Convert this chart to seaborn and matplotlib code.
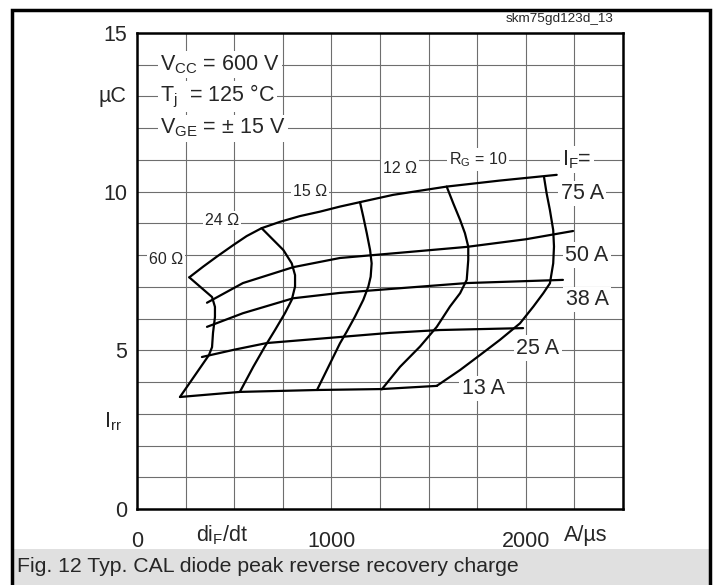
import numpy as np
import pandas as pd
import matplotlib
matplotlib.use("Agg")
import matplotlib.pyplot as plt
from matplotlib.patches import Rectangle
import seaborn as sns

# ── Data ──────────────────────────────────────────────────────────────────────
# I_F curves: di/dt (A/us) vs Irr
IF_75_X = [269, 341, 410, 496, 564, 641, 736, 838, 941, 1044, 1147, 1318, 1593, 1867, 2159]
IF_75_Y = [7.30, 7.64, 7.95, 8.32, 8.60, 8.85, 9.05, 9.23, 9.37, 9.53, 9.67, 9.90, 10.16, 10.35, 10.53]
IF_50_X = [360, 545, 803, 1044, 1400, 1697, 2000, 2243]
IF_50_Y = [6.5, 7.12, 7.62, 7.91, 8.1, 8.26, 8.5, 8.76]
IF_38_X = [360, 545, 803, 1044, 1400, 1697, 2191]
IF_38_Y = [5.74, 6.17, 6.64, 6.81, 6.98, 7.12, 7.22]
IF_25_X = [334, 500, 668, 1044, 1300, 1558, 1986]
IF_25_Y = [4.79, 5.02, 5.23, 5.42, 5.55, 5.64, 5.7]
IF_13_X = [221, 530, 926, 1260, 1543]
IF_13_Y = [3.53, 3.69, 3.75, 3.78, 3.88]

# R_G curves
RG_60_X = [269, 386, 401, 401, 391, 386, 370, 221]
RG_60_Y = [7.30, 6.68, 6.37, 6.05, 5.55, 5.10, 4.85, 3.53]
RG_24_X = [641, 701, 753, 796, 813, 813, 796, 761, 710, 658, 598, 530]
RG_24_Y = [8.85, 8.48, 8.16, 7.74, 7.37, 7.01, 6.59, 6.17, 5.64, 5.12, 4.48, 3.70]
RG_15_X = [1147, 1164, 1182, 1199, 1207, 1202, 1190, 1164, 1121, 1079, 1044, 926]
RG_15_Y = [9.67, 9.21, 8.69, 8.16, 7.74, 7.32, 7.01, 6.59, 6.06, 5.59, 5.22, 3.75]
RG_12_X = [1593, 1627, 1662, 1687, 1704, 1704, 1696, 1662, 1610, 1542, 1456, 1353, 1259]
RG_12_Y = [10.16, 9.63, 9.11, 8.69, 8.27, 7.85, 7.22, 6.80, 6.38, 5.74, 5.12, 4.48, 3.77]
RG_10_X = [2094, 2107, 2124, 2141, 2145, 2141, 2124, 2090, 2039, 1970, 1867, 1764, 1662, 1542]
RG_10_Y = [10.45, 9.95, 9.42, 8.79, 8.27, 7.74, 7.11, 6.80, 6.38, 5.85, 5.33, 4.85, 4.38, 3.88]

CURVES = {
    "IF75": (IF_75_X, IF_75_Y), "IF50": (IF_50_X, IF_50_Y),
    "IF38": (IF_38_X, IF_38_Y), "IF25": (IF_25_X, IF_25_Y),
    "IF13": (IF_13_X, IF_13_Y),
    "RG60": (RG_60_X, RG_60_Y), "RG24": (RG_24_X, RG_24_Y),
    "RG15": (RG_15_X, RG_15_Y), "RG12": (RG_12_X, RG_12_Y),
    "RG10": (RG_10_X, RG_10_Y),
}

X_TICKS = [0, 1000, 2000]
Y_TICKS = [0, 5, 10, 15]

# ── Style ─────────────────────────────────────────────────────────────────────
sns.set_style("white")
plt.rcParams["font.family"] = ["Liberation Sans", "DejaVu Sans"]
plt.rcParams["mathtext.fontset"] = "custom"
plt.rcParams["mathtext.rm"] = "Liberation Sans"
plt.rcParams["mathtext.it"] = "Liberation Sans"

BIG = 15.5
SMALL = 11.5

fig = plt.figure(figsize=(7.15, 5.85), dpi=100)
ax = fig.add_axes([137 / 715, 1 - 509 / 585, 486 / 715, 476 / 585])

# outer frame and caption band
fig.patches.append(Rectangle((12 / 715, 0), 698 / 715, 36 / 585, transform=fig.transFigure,
                             facecolor="#e0e0e0", edgecolor="none", zorder=0))
fig.patches.append(Rectangle((12 / 715, -0.01), 698 / 715, 1 - 10 / 585 + 0.01,
                             transform=fig.transFigure, facecolor="none",
                             edgecolor="black", linewidth=2.5, zorder=1))

# ── Curves ────────────────────────────────────────────────────────────────────
for name, (xs, ys) in CURVES.items():
    df = pd.DataFrame({"x": xs, "y": ys})
    sns.lineplot(data=df, x="x", y="y", sort=False, color="black",
                 linewidth=1.6, ax=ax, zorder=3, estimator=None)

ax.set_xlim(0, 2500)
ax.set_ylim(0, 15)
ax.set_xticks(np.arange(0, 2501, 250), minor=True)
ax.set_yticks(np.arange(0, 16, 1), minor=True)
ax.set_xticks(X_TICKS)
ax.set_yticks(Y_TICKS)
ax.set_xticklabels([str(t) for t in X_TICKS], fontsize=BIG)
ax.set_yticklabels([str(t) for t in Y_TICKS], fontsize=BIG)
ax.tick_params(length=0, axis="x", pad=16)
ax.tick_params(length=0, axis="y", pad=7)
ax.grid(True, which="both", color="#6e6e6e", linewidth=0.8)
ax.set_axisbelow(True)
ax.set_xlabel("")
ax.set_ylabel("")
for s in ax.spines.values():
    s.set_linewidth(1.8)
    s.set_color("black")

# ── Annotations ───────────────────────────────────────────────────────────────
box = dict(facecolor="white", edgecolor="none", pad=1.5)


def label(x, y, s, size=BIG, ha="center"):
    ax.text(x, y, s, fontsize=size, ha=ha, va="center", bbox=box, zorder=4)


label(120, 14, r"V$_{\mathrm{CC}}$ = 600 V", ha="left")
label(120, 13, r"T$_{\mathrm{j}}$  = 125 °C", ha="left")
label(120, 12, r"V$_{\mathrm{GE}}$ = ± 15 V", ha="left")
label(150, 7.85, "60 Ω", SMALL)
label(437, 9.1, "24 Ω", SMALL)
label(890, 10.0, "15 Ω", SMALL)
label(1353, 10.72, "12 Ω", SMALL)
label(1754, 11.02, r"R$_{\mathrm{G}}$ = 10", SMALL)
label(2263, 11.02, r"I$_{\mathrm{F}}$=", BIG)
label(2290, 9.95, "75 A")
label(2315, 8.0, "50 A")
label(2315, 6.6, "38 A")
label(2063, 5.07, "25 A")
label(1780, 3.8, "13 A")

ax.text(-0.05, 13, "µC", transform=ax.get_yaxis_transform(), fontsize=BIG,
        ha="center", va="center")
ax.text(-0.05, 2.75, r"I$_{\mathrm{rr}}$", transform=ax.get_yaxis_transform(),
        fontsize=BIG, ha="center", va="center")
ax.text(437, -0.055, r"di$_{\mathrm{F}}$/dt", transform=ax.get_xaxis_transform(),
        fontsize=BIG, ha="center", va="center")
ax.text(2310, -0.055, "A/µs", transform=ax.get_xaxis_transform(),
        fontsize=BIG, ha="center", va="center")

fig.text(560 / 715, 1 - 19 / 585, "skm75gd123d_13", fontsize=9.7, ha="center", va="center")
fig.text(17 / 715, 1 - 567 / 585, "Fig. 12 Typ. CAL diode peak reverse recovery charge",
         fontsize=15.3, ha="left", va="center")

fig.savefig("out.png", dpi=100)
